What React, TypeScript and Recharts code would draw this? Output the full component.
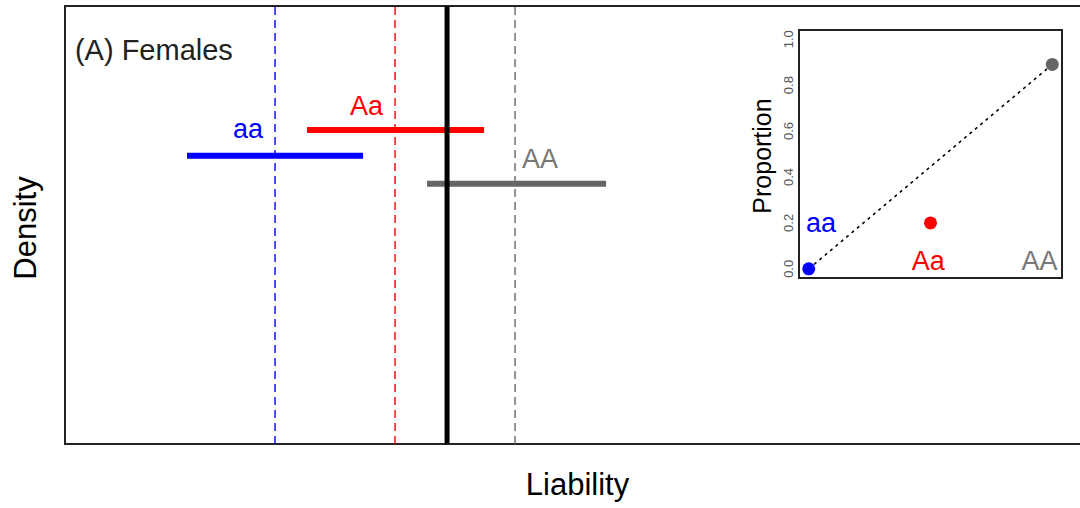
import { ComposedChart, Line, Scatter, Cell, XAxis, YAxis, ReferenceLine, ReferenceArea, ReferenceDot } from 'recharts';

const FONT = '"Liberation Sans", Arial, sans-serif';

// main panel: liability scale
const genotypes = ['aa', 'Aa', 'AA'];
const genoColors = ['#0000ff', '#ff0000', '#666666'];
const labelColors = ['#0000ff', '#ff0000', '#777777'];
const genoMeans = [-1.752, -1.039, -0.326];
const threshold = -0.73;
const spanStart = [-2.275, -1.562, -0.849];
const spanEnd = [-1.229, -0.51, 0.215];
const spanDensity = [0.658, 0.717, 0.594];
const labelLiab = [-1.913, -1.209, -0.178];
const labelDensity = [0.699, 0.751, 0.63];

// inset: proportion affected per genotype
const genoIndex = [1, 2, 3];
const proportions = [0, 0.2, 0.89];
const propTicks = [0, 0.2, 0.4, 0.6, 0.8, 1];
const insetLabelX = [1.1, 1.981, 2.895];
const insetLabelY = [0.161, -0.004, -0.004];

const textAt = (value: string, fill: string, size: number, anchor: 'start' | 'middle' = 'middle') => (p: any) => (
  <text x={p.viewBox.x} y={p.viewBox.y} fill={fill} fontSize={size} fontFamily={FONT} textAnchor={anchor}>
    {value}
  </text>
);

const xTitle = (p: any) => {
  const vb = p.viewBox;
  return (
    <text x={vb.x + vb.width / 2} y={vb.y + vb.height - 13} fontSize={31} fontFamily={FONT} textAnchor="middle" fill="#000">
      Liability
    </text>
  );
};

const yTitle = (p: any) => {
  const vb = p.viewBox;
  const x = vb.x + 36;
  const y = vb.y + vb.height / 2 + 3;
  return (
    <text x={x} y={y} transform={`rotate(-90 ${x} ${y})`} fontSize={31} fontFamily={FONT} textAnchor="middle" fill="#000">
      Density
    </text>
  );
};

const propTitle = (p: any) => {
  const vb = p.viewBox;
  const x = vb.x + 31;
  const y = vb.y + vb.height / 2 + 2;
  return (
    <text x={x} y={y} transform={`rotate(-90 ${x} ${y})`} fontSize={25} fontFamily={FONT} textAnchor="middle" fill="#000">
      Proportion
    </text>
  );
};

const propTick = (p: any) => {
  const x = p.x + 2;
  return (
    <text x={x} y={p.y} transform={`rotate(-90 ${x} ${p.y})`} fontSize={13} fontFamily={FONT} textAnchor="middle" fill="#555">
      {Number(p.payload.value).toFixed(1)}
    </text>
  );
};

export default function App() {
  const points = genoIndex.map((x, i) => ({ x, y: proportions[i] }));
  const trend = [points[0], points[2]];

  return (
    <div style={{ position: 'fixed', left: 0, top: 0, width: 1080, height: 508, overflow: 'hidden', background: '#fff' }}>
      <ComposedChart width={1100} height={508} margin={{ top: 6, right: 10, bottom: 0, left: 0 }}>
        <XAxis
          type="number"
          dataKey="x"
          domain={[-3, 3.09]}
          allowDataOverflow
          tick={false}
          tickLine={false}
          axisLine={false}
          height={64}
          label={{ content: xTitle }}
        />
        <YAxis
          type="number"
          dataKey="y"
          domain={[0, 1]}
          allowDataOverflow
          tick={false}
          tickLine={false}
          axisLine={false}
          width={65}
          label={{ content: yTitle }}
        />
        <ReferenceArea x1={-3} x2={3.09} y1={0} y2={1} fill="none" fillOpacity={0} stroke="#222" strokeWidth={2} />
        {genotypes.map((g, i) => (
          <Line
            key={g}
            data={[
              { x: spanStart[i], y: spanDensity[i] },
              { x: spanEnd[i], y: spanDensity[i] },
            ]}
            dataKey="y"
            stroke={genoColors[i]}
            strokeWidth={6}
            dot={false}
            activeDot={false}
            isAnimationActive={false}
          />
        ))}
        {genotypes.map((g, i) => (
          <ReferenceLine key={'m' + g} x={genoMeans[i]} stroke={genoColors[i]} strokeWidth={1.4} strokeDasharray="8 5" />
        ))}
        <ReferenceLine x={threshold} stroke="#000" strokeWidth={5} />
        {genotypes.map((g, i) => (
          <ReferenceDot
            key={'l' + g}
            x={labelLiab[i]}
            y={labelDensity[i]}
            r={0}
            strokeWidth={0}
            label={{ content: textAt(g, labelColors[i], 27) }}
          />
        ))}
        <ReferenceDot x={-2.941} y={0.877} r={0} strokeWidth={0} label={{ content: textAt('(A) Females', '#222', 29, 'start') }} />
      </ComposedChart>

      <div style={{ position: 'absolute', left: 740, top: 0 }}>
        <ComposedChart width={340} height={300} margin={{ top: 30, right: 18, bottom: 22, left: 0 }}>
          <XAxis type="number" dataKey="x" domain={[0.92, 3.08]} allowDataOverflow hide />
          <YAxis
            type="number"
            dataKey="y"
            domain={[-0.04, 1.04]}
            allowDataOverflow
            ticks={propTicks}
            tick={propTick}
            tickLine={false}
            axisLine={false}
            width={59}
            label={{ content: propTitle }}
          />
          <ReferenceArea x1={0.92} x2={3.08} y1={-0.04} y2={1.04} fill="none" fillOpacity={0} stroke="#222" strokeWidth={2} />
          <Line
            data={trend}
            dataKey="y"
            stroke="#000"
            strokeWidth={1.5}
            strokeDasharray="3 4"
            dot={false}
            activeDot={false}
            isAnimationActive={false}
          />
          <Scatter
            data={points}
            dataKey="y"
            isAnimationActive={false}
            shape={(p: any) => <circle cx={p.cx} cy={p.cy} r={6.5} fill={p.fill} />}
          >
            {points.map((_, i) => (
              <Cell key={i} fill={genoColors[i]} />
            ))}
          </Scatter>
          {genotypes.map((g, i) => (
            <ReferenceDot
              key={'i' + g}
              x={insetLabelX[i]}
              y={insetLabelY[i]}
              r={0}
              strokeWidth={0}
              label={{ content: textAt(g, labelColors[i], 27) }}
            />
          ))}
        </ComposedChart>
      </div>
    </div>
  );
}
